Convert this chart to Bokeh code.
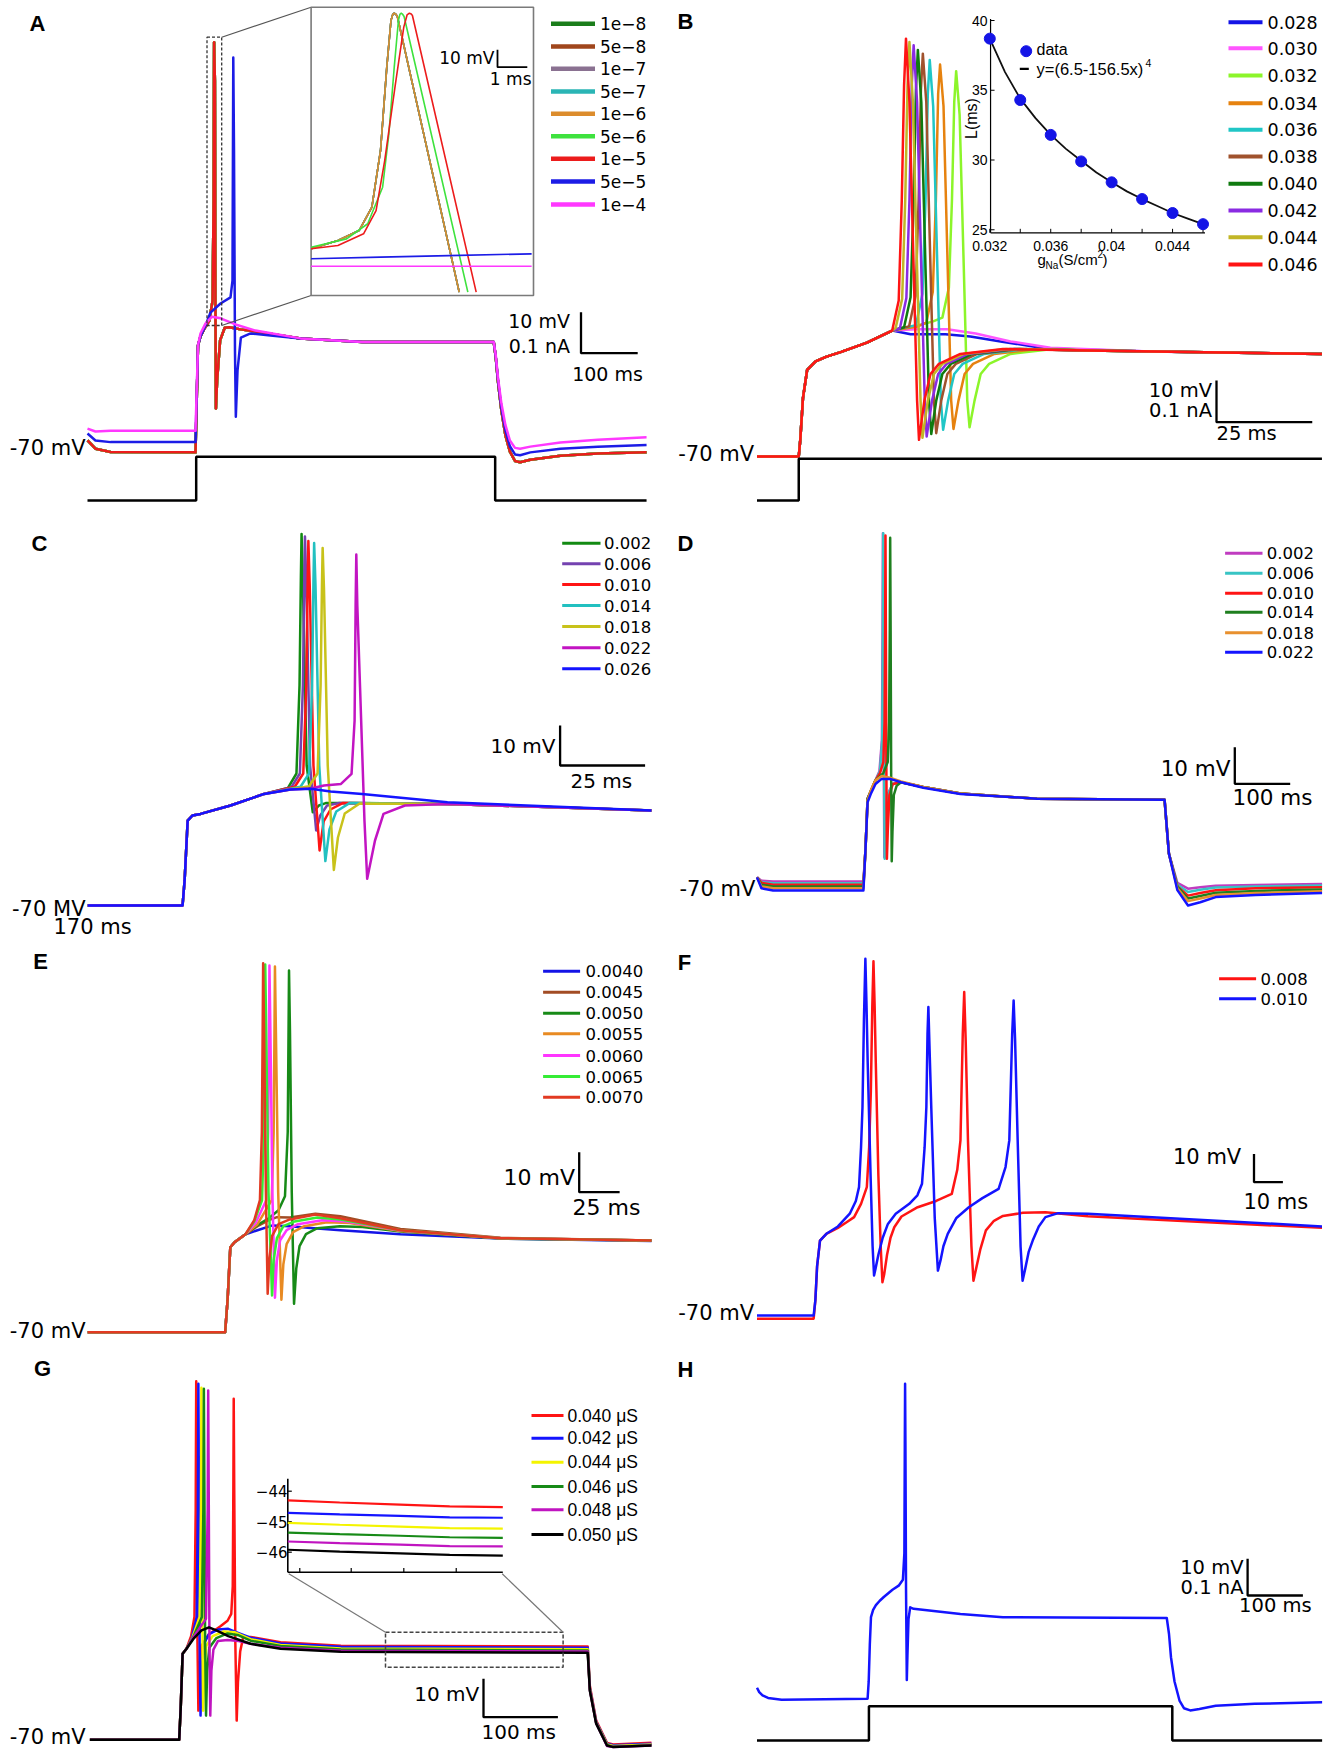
import math
from bokeh.plotting import figure
from bokeh.models import Range1d
from bokeh.core.properties import value
from bokeh.embed import file_html
from bokeh.resources import INLINE

# ======================= DATA (ms, mV, nA) =======================
# ---- Panel A ----
A_LABELS = ["1e\u22128", "5e\u22128", "1e\u22127", "5e\u22127", "1e\u22126", "5e\u22126", "1e\u22125", "5e\u22125", "1e\u22124"]
A_COLORS = ["#1b7d1b", "#a0461c", "#8a7191", "#2ab5b5", "#dc8c2c", "#3ee23e", "#ec1c1c", "#1c1ce6", "#ff38ff"]
A_GROUP = [(0, -67.8), (14, -69.8), (40.6, -70.6), (190.5, -70.7), (194.9, -44.6), (199.3, -42.4), (206, -40.6),
           (214.5, -38.7), (220.6, -33.7), (222.4, -9.3), (223.3, 29.3), (224.7, 20), (225.6, -33.7), (226.5, -60),
           (228.6, -53.2), (233.9, -43.4), (242, -40.3), (250, -40.2), (269.8, -40.7), (296.3, -41.2),
           (375.7, -42.9), (485, -43.8), (716.5, -43.8), (720, -47.5), (724, -53.5), (730, -60.5), (737, -66.5),
           (745, -70.5), (754, -72.8), (763, -73.1), (781, -72.5), (834, -71.5), (900, -71), (986, -70.7)]
A_BLUE = [(0, -66.1), (14, -67.8), (40.6, -68.2), (190.5, -68.2), (194.9, -44.6), (199.3, -42.4), (208, -39.8),
          (216.9, -36.6), (234.6, -34.4), (252.2, -32.9), (255.7, -28.8), (257.1, 25.6), (258.4, 2.9),
          (260.1, -45.9), (261.6, -62), (264.6, -50.7), (270.5, -42.7), (287.5, -41.7), (322.8, -42.2),
          (375.7, -42.9), (485, -43.8), (716.5, -43.8), (720, -47.3), (724, -53), (730, -59.8), (737, -65.3),
          (745, -69.2), (754, -71.2), (763, -71.4), (781, -70.7), (834, -69.8), (900, -69.3), (986, -68.9)]
A_MAGENTA = [(0, -64.9), (14, -65.6), (40.6, -65.4), (190.5, -65.4), (194.9, -44.6), (199.3, -41.7), (208, -39.3),
             (219.6, -37.6), (234.6, -38), (261, -39.5), (296.3, -41), (375.7, -42.9), (485, -43.8), (716.5, -43.8),
             (720, -47), (724, -52.5), (730, -58.8), (737, -64), (745, -67.8), (754, -69.6), (763, -69.8),
             (781, -69.3), (834, -68.3), (900, -67.6), (986, -67)]
A_STIM_T = [0, 191.7, 191.7, 719, 719, 986]
A_STIM_I = [0, 0, 0.107, 0.107, 0, 0]
# zoomed inset of panel A
AI_GROUP = [(0, -105.4), (0.9, -100.6), (1.61, -94.9), (2.04, -81.5), (2.33, -48.9), (2.54, -1.0), (2.68, 25.8),
            (2.74, 29.2), (2.79, 30), (2.85, 29.3), (2.9, 27.7), (4.97, -130.3)]
AI_LIME = [(0, -104.5), (1.19, -99.7), (1.9, -91), (2.4, -70), (2.61, -39.3), (2.79, -1.0), (2.93, 25.8),
           (2.98, 29.3), (3.02, 30), (3.07, 29.4), (3.12, 28.1), (5.26, -130.3)]
AI_RED = [(0, -105.4), (0.9, -103.5), (1.76, -96.8), (2.18, -83.4), (2.47, -54.7), (2.83, -10.6), (3.11, 22),
          (3.22, 29), (3.3, 30), (3.36, 29.5), (3.4, 28.7), (5.54, -130.3)]
AI_BLUE = [(0, -111.1), (2.33, -110.2), (4.61, -109.3), (7.4, -108.3)]
AI_MAGENTA = [(0, -115.4), (7.4, -115.4)]

# ---- Panel B ----
B_LABELS = ["0.028", "0.030", "0.032", "0.034", "0.036", "0.038", "0.040", "0.042", "0.044", "0.046"]
B_COLORS = ["#1414e6", "#ff55ff", "#8cf52a", "#e6820f", "#20c6c6", "#a0522d", "#0f7a0f", "#8a2be2", "#c2b626", "#ff1414"]
B_RISE = [(0, -70), (10.9, -70), (11.3, -66), (12.0, -56), (13.1, -49.2), (15.3, -47.2), (18, -46.1),
          (22, -44.9), (28.7, -42.7), (35.3, -39.8)]
B_TAILS = [
    [(40.1, -40.7), (49.2, -40.7), (55.7, -41.2), (63.6, -42.4), (75.3, -44.1), (102.7, -44.8), (147.5, -45.4)],
    [(41.4, -39.5), (49.7, -39.5), (57.1, -40.5), (66.2, -42.4), (76.6, -43.9), (102.7, -44.8), (147.5, -45.4)],
    [(42, -38.6), (46, -37.6), (48.4, -36.7), (50.1, -29.5), (50.9, -8.6), (51.5, 15), (52.0, 22.4), (52.9, 12),
     (54.0, -25), (54.9, -56.6), (55.5, -63.0), (56.8, -56.6), (58.4, -50.2), (60.6, -47.8), (66.2, -45.4),
     (77.3, -44.2), (86.4, -44.6), (147.5, -45.4)],
    [(42, -38.8), (44.2, -37.9), (45.9, -30.5), (46.7, -8.6), (47.3, 17), (47.8, 24.0), (48.7, 14), (49.8, -25),
     (50.7, -56.6), (51.3, -63.4), (52.6, -56.6), (54.2, -50.2), (56.4, -47.8), (62.0, -45.4), (73.1, -44.2),
     (86.4, -44.6), (147.5, -45.4)],
    [(41.5, -38.5), (43.2, -31), (44.0, -8.6), (44.6, 17), (45.1, 25.1), (46.0, 14), (47.1, -25), (48.0, -56.6),
     (48.6, -63.6), (49.9, -56.6), (51.5, -50.2), (53.7, -47.8), (59.3, -45.4), (70.4, -44.2), (86.4, -44.6),
     (147.5, -45.4)],
    [(39.7, -38.8), (41.4, -31.5), (42.2, -8.6), (42.8, 18), (43.3, 26.6), (44.2, 15), (45.3, -25), (46.2, -56.6),
     (46.8, -64.4), (48.1, -56.6), (49.7, -50.2), (51.9, -47.8), (57.5, -45.4), (68.6, -44.2), (86.4, -44.6),
     (147.5, -45.4)],
    [(38.4, -39.0), (40.1, -31.8), (40.9, -8.6), (41.5, 18), (42.0, 27.5), (42.9, 15), (44.0, -25), (44.9, -56.6),
     (45.5, -64.6), (46.8, -56.6), (48.4, -50.2), (50.6, -47.8), (56.2, -45.4), (67.3, -44.2), (86.4, -44.6),
     (147.5, -45.4)],
    [(37.3, -39.3), (39.0, -32), (39.8, -8.6), (40.4, 19), (40.9, 28.6), (41.8, 15), (42.9, -25), (43.8, -56.6),
     (44.3, -65.2), (45.7, -56.6), (47.3, -50.2), (49.5, -47.8), (55.1, -45.4), (66.2, -44.2), (86.4, -44.6),
     (147.5, -45.4)],
    [(36.2, -39.2), (37.9, -32.2), (38.7, -8.6), (39.3, 19), (39.8, 29.4), (40.7, 15), (41.8, -25), (42.7, -56.6),
     (43.2, -65.5), (44.6, -56.6), (46.2, -50.2), (48.4, -47.8), (54.0, -45.4), (65.1, -44.2), (86.4, -44.6),
     (147.5, -45.4)],
    [(37.0, -32.6), (37.8, -8.6), (38.4, 19), (38.9, 30.2), (39.8, 15), (40.9, -25), (41.8, -56.6), (42.3, -66.0),
     (43.7, -56.6), (45.3, -50.2), (47.5, -47.8), (53.1, -45.4), (64.2, -44.2), (86.4, -44.6), (147.5, -45.4)],
]
B_STIM_T = [0, 10.9, 10.9, 147.5]
B_STIM_I = [0, 0, 0.1, 0.1]
# inset of panel B: latency vs gNa
B_GNA = [0.032, 0.034, 0.036, 0.038, 0.040, 0.042, 0.044, 0.046]
B_LAT = [38.7, 34.3, 31.8, 29.9, 28.4, 27.2, 26.2, 25.4]
B_FIT_G = [0.032, 0.033, 0.034, 0.035, 0.036, 0.037, 0.038, 0.039, 0.040, 0.041, 0.042, 0.043, 0.044, 0.045, 0.046]
B_FIT_L = [38.7, 36.3, 34.4, 33.0, 31.8, 30.8, 29.95, 29.1, 28.4, 27.75, 27.2, 26.7, 26.2, 25.8, 25.4]
B_YTICKS = [25, 30, 35, 40]
B_XTICKS = [0.032, 0.036, 0.040, 0.044]
B_XTICK_LABELS = ["0.032", "0.036", "0.04", "0.044"]

# ---- Panel C ----
C_LABELS = ["0.002", "0.006", "0.010", "0.014", "0.018", "0.022", "0.026"]
C_COLORS = ["#128a12", "#7442b0", "#ff1414", "#22c0c0", "#c8c21a", "#c214c2", "#1414ff"]
C_RISE = [(0, -70), (27.9, -70), (28.5, -63.8), (29.4, -48.8), (30.8, -47.5), (33.2, -47.1), (42, -45), (51.9, -42.1)]
C_TAILS = [
    [(58.9, -40.6), (61.4, -37), (62.3, -15), (62.7, 12), (62.9, 22.9), (63.3, 10), (64.4, -35), (66.2, -46.7),
     (68, -45), (70, -44.4), (80, -44.4), (105.8, -44.6), (165.8, -46.25)],
    [(59.9, -40.4), (62.4, -37), (63.3, -15), (63.7, 12), (63.9, 22.25), (64.3, 10), (65.4, -35), (67.2, -51.25),
     (68.4, -47.5), (70.4, -45), (74, -44.4), (105.8, -44.6), (165.8, -46.25)],
    [(60.9, -40.3), (63.4, -37), (64.3, -15), (64.7, 11), (64.9, 21.1), (65.3, 10), (66.4, -35), (68.2, -56.25),
     (69.4, -49), (71.4, -46), (75, -44.4), (105.8, -44.6), (165.8, -46.25)],
    [(62.6, -40.3), (65.1, -37), (66.0, -15), (66.4, 11), (66.6, 20.6), (67.0, 10), (68.1, -35), (69.9, -58.9),
     (71.1, -51), (73.1, -46.5), (77, -44.4), (105.8, -44.6), (165.8, -46.25)],
    [(65.1, -40.2), (67.6, -37), (68.5, -15), (68.9, 10), (69.1, 19.4), (69.5, 9), (70.6, -35), (72.4, -61.1),
     (73.6, -53), (75.6, -47), (80, -44.5), (105.8, -44.6), (165.8, -46.25)],
    [(59.6, -41), (65.7, -40.75), (69.5, -40), (74.5, -39.6), (77.6, -37.1), (78.5, -23.75), (78.8, 5),
     (79.0, 17.75), (79.3, 5), (80.1, -15.4), (81.4, -48.75), (82.2, -63.3), (84.5, -53.75), (87, -47.1),
     (93.3, -45), (105.8, -44.6), (165.8, -46.25)],
    [(59.6, -41), (65.7, -40.8), (71.4, -41.5), (80.7, -42.1), (105.8, -44.2), (165.8, -46.25)],
]

# ---- Panel D ----
D_LABELS = ["0.002", "0.006", "0.010", "0.014", "0.018", "0.022"]
D_COLORS = ["#c03cc0", "#38c4c4", "#ff1414", "#1f7f1f", "#e8902e", "#1414ff"]
D_TRACES = [
    [(0, -67.5), (8, -68.4), (29.1, -68.6), (192.1, -68.6), (195.8, -60), (199.6, -46), (213.9, -41), (221, -38.5),
     (225.5, -30), (226.7, 0), (227.3, 26.5), (228, 0), (229, -40), (229.9, -62), (231.5, -55), (235, -45),
     (245, -42), (260, -41.5), (300, -42.8), (367.1, -44.6), (505.4, -46), (735.7, -46.3), (743.5, -61),
     (758.8, -69), (778, -70.6), (800, -70.2), (828, -69.8), (900, -69.6), (1020, -69.3)],
    [(0, -67.5), (8, -68.8), (29.1, -69.1), (192.1, -69.1), (195.8, -60), (199.6, -46), (213.9, -41), (222, -38.5),
     (226, -30), (227.3, 0), (227.9, 26.5), (228.6, 0), (229.6, -40), (230.5, -62.4), (232, -55), (236, -45),
     (245, -42), (260, -41.5), (300, -42.8), (367.1, -44.6), (505.4, -46), (735.7, -46.3), (743.5, -61),
     (758.8, -69.5), (778, -71.5), (800, -70.9), (828, -70.3), (900, -70), (1020, -69.7)],
    [(0, -67.5), (8, -69), (29.1, -69.5), (192.1, -69.5), (195.8, -60), (199.6, -46), (213.9, -41), (222, -39),
     (228, -36), (230.3, -25), (231.3, 0), (231.9, 25.9), (232.6, 0), (233.6, -40), (234.5, -62.4), (236, -55),
     (239, -45), (245, -42), (260, -41.5), (300, -42.8), (367.1, -44.6), (505.4, -46), (735.7, -46.3),
     (743.5, -61), (758.8, -70), (778, -72.5), (800, -71.8), (828, -71), (900, -70.5), (1020, -70.2)],
    [(0, -67.5), (8, -69.5), (29.1, -70), (192.1, -70), (195.8, -60), (199.6, -46), (213.9, -41), (228, -39),
     (236, -36), (238.5, -25), (239.7, 0), (240.4, 25.3), (241.2, 0), (242.2, -40), (243.2, -63.1), (244.5, -55),
     (247, -45), (252, -42.5), (260, -41.5), (300, -42.8), (367.1, -44.6), (505.4, -46), (735.7, -46.3),
     (743.5, -61), (758.8, -70), (778, -73.3), (800, -72.6), (828, -71.7), (900, -71.2), (1020, -70.8)],
    [(0, -67.5), (8, -70), (29.1, -70.5), (192.1, -70.5), (195.8, -60), (199.6, -46.5), (206, -43.5), (213.9, -41),
     (225, -39.8), (240, -40.3), (260, -41.3), (300, -42.8), (367.1, -44.6), (505.4, -46), (735.7, -46.3),
     (743.5, -61), (758.8, -70.5), (778, -74), (800, -73.3), (828, -72.3), (900, -71.8), (1020, -71.3)],
    [(0, -67.5), (8, -70.5), (29.1, -71.1), (192.1, -71.1), (195.8, -60), (199.6, -47), (206, -44.5), (213.9, -42),
     (225, -40.6), (240, -40.6), (260, -41.5), (300, -43), (367.1, -44.7), (505.4, -46), (735.7, -46.3),
     (743.5, -61), (758.8, -71), (778, -75.2), (800, -74.3), (828, -72.9), (900, -72.3), (1020, -71.8)],
]

# ---- Panel E ----
E_LABELS = ["0.0040", "0.0045", "0.0050", "0.0055", "0.0060", "0.0065", "0.0070"]
E_COLORS = ["#1414e6", "#a24c24", "#178a17", "#e88a22", "#ff35ff", "#35ec35", "#e23a22"]
E_RISE = [(0, -70), (85, -70), (86.5, -62), (88.2, -48.75), (90.8, -47.5), (97.6, -45.5)]
E_TAILS = [
    [(105, -44.5), (114.3, -43.3), (125, -43.5), (140, -44), (156.3, -44.5), (193.4, -45.5), (255.3, -46.6),
     (348.7, -47.2)],
    [(105, -43.5), (112, -42), (117.1, -41.25), (125, -41.3), (140.8, -40.4), (156.3, -41), (193.4, -44.2),
     (255.3, -46.4), (348.7, -47.1)],
    [(105, -43.2), (112, -41.5), (118, -39.5), (122, -36), (123.7, -20), (124.2, 5), (124.5, 20.4), (125.1, 5),
     (126.2, -35), (127.6, -62.9), (129, -54), (131, -48.5), (135, -45.5), (142, -44), (156, -43.5), (170, -43.7),
     (193.4, -44.8), (255.3, -46.6), (348.7, -47.1)],
    [(105, -43), (113.8, -37), (115, -20), (115.5, 5), (115.8, 21.4), (116.4, 5), (117.8, -35), (119.8, -61.9),
     (121, -53), (123, -48), (127, -45), (134, -43.5), (148, -42.5), (162, -42.7), (193.4, -44.7), (255.3, -46.5),
     (348.7, -47.1)],
    [(104, -42.6), (110.4, -37), (111.6, -20), (112.1, 5), (112.4, 21.7), (113, 5), (114.2, -35), (115.8, -61.4),
     (117, -52), (119, -47), (123, -44.5), (130, -43), (145, -42), (160, -42.3), (193.4, -44.6), (255.3, -46.5),
     (348.7, -47.1)],
    [(103, -42.3), (107.8, -37), (109, -20), (109.5, 5), (109.8, 21.9), (110.4, 5), (111.8, -35), (114.0, -60.8),
     (115, -52), (117, -46.5), (121, -43.5), (128, -42.3), (142, -41.3), (156.3, -41.8), (193.4, -44.5),
     (255.3, -46.5), (348.7, -47.1)],
    [(103, -42), (106.5, -37), (107.7, -20), (108.2, 5), (108.5, 22.25), (109.1, 5), (110.2, -35), (111.3, -60.4),
     (112.3, -52), (114, -46), (118, -43), (125, -41.8), (140.8, -40.6), (156.3, -41.5), (193.4, -44.5),
     (255.3, -46.5), (348.7, -47.1)],
]

# ---- Panel F ----
F_LABELS = ["0.008", "0.010"]
F_COLORS = ["#ff1414", "#1414ff"]
F_TRACES = [
    [(0, -70.6), (19.6, -70.6), (20.2, -64), (20.8, -52), (21.8, -43), (24, -40.6), (28, -38.5), (31, -36.5),
     (33.6, -34.7), (36, -30), (38, -24.1), (38.8, -10), (39.4, 10), (39.9, 40), (40.3, 55.7), (40.7, 40),
     (41.1, 20), (42, -20), (42.8, -45), (43.4, -57.7), (44.0, -55), (45, -48), (46.2, -42), (47.5, -38.3),
     (50, -34.5), (55.6, -31.2), (62, -29), (67.4, -26.5), (69.3, -18), (70.4, -7.6), (71.2, 30), (71.7, 44.8),
     (72.2, 28), (73, -7.6), (74.2, -45), (74.9, -57.2), (75.8, -53), (77.3, -46), (79.2, -39.4), (82, -36),
     (85.1, -34.3), (92, -33.2), (99.8, -33), (114.5, -34.4), (195.5, -38.5)],
    [(0, -69.5), (19.6, -69.5), (20.2, -64), (20.8, -52), (21.8, -43), (24, -40.6), (28, -38), (32.1, -33.5),
     (34.2, -29), (35.3, -24.1), (36.0, -10), (36.5, 4.1), (37.0, 35), (37.5, 56.6), (37.9, 40), (38.3, 20),
     (39.3, -20), (40.0, -45), (40.5, -55.3), (41.0, -53), (42, -48), (43.5, -42), (45.3, -37.1), (48, -33.5),
     (52.7, -30), (55.5, -27), (57.1, -22.9), (58.0, -10), (58.6, 4.1), (59.0, 30), (59.3, 39.5), (59.7, 25),
     (60.3, 4.1), (61.5, -35), (62.6, -53.6), (63.5, -50), (64.5, -45), (66, -40.6), (69, -35), (73.3, -31.2),
     (78, -28), (83.6, -24.7), (86.0, -17), (87.3, -7.6), (88.3, 30), (88.8, 41.8), (89.3, 28), (90.2, -7.6),
     (91.2, -45), (91.9, -57.2), (92.8, -53), (94, -47), (95.4, -43), (97.5, -38), (99.8, -34.7), (104.2, -33.3),
     (114.5, -33.5), (195.5, -38)],
]

# ---- Panel G ----
G_LABELS = ["0.040 \u03bcS", "0.042 \u03bcS", "0.044 \u03bcS", "0.046 \u03bcS", "0.048 \u03bcS", "0.050 \u03bcS"]
G_COLORS = ["#ff1414", "#1414ff", "#f4f400", "#178a17", "#c014c0", "#000000"]
G_RISE = [(0, -70), (120, -70), (122, -62), (124.6, -47.6), (129.8, -46.3)]
G_TAILS = [
    [(136, -43), (140.5, -38), (142.2, -10), (142.9, 23.4), (143.6, -5), (144.6, -45), (145.8, -62.4), (147.3, -52),
     (150, -45.5), (160, -42.5), (175, -40.5), (185, -39), (190, -37.2), (192, -30), (192.8, -5), (193.3, 18.8),
     (194, -5), (195.5, -45), (197.3, -65), (199, -55), (202, -47), (206, -43.3), (215.9, -43.2), (256.2, -44.6),
     (337.4, -45.5), (669.1, -45.7), (672, -56), (680.5, -65), (695, -70.8), (703.5, -71.2), (754.8, -70.8)],
    [(137, -43.5), (143.5, -38), (145.1, -10), (145.8, 22.7), (146.5, -5), (147.5, -45), (148.7, -63.7),
     (150.2, -52), (153, -45), (160, -42.5), (172, -41.3), (185.9, -41.1), (200, -42.2), (215.9, -43.4),
     (256.2, -44.9), (337.4, -45.8), (669.1, -46), (672, -56.5), (680.5, -65.3), (695, -71), (703.5, -71.4),
     (754.8, -71)],
    [(138, -43.3), (147.5, -38), (149.3, -10), (149.9, 21.7), (150.6, -5), (151.4, -45), (152.2, -62.4),
     (153.7, -52), (156.5, -45.5), (165, -43), (180, -41.8), (195, -42), (215.9, -43.8), (256.2, -45.3),
     (337.4, -46.2), (669.1, -46.4), (672, -56.8), (680.5, -65.5), (695, -71.2), (703.5, -71.6), (754.8, -71.2)],
    [(139, -43.2), (150.5, -38), (152.5, -10), (153.2, 21.4), (153.9, -5), (154.9, -45), (156.1, -63.7),
     (157.6, -52), (160.5, -46), (170, -43.5), (185, -42.3), (200, -42.8), (215.9, -44.2), (256.2, -45.6),
     (337.4, -46.5), (669.1, -46.75), (672, -57), (680.5, -65.6), (695, -71.4), (703.5, -71.8), (754.8, -71.4)],
    [(140, -43), (156, -38.5), (158.3, -10), (159, 20.95), (159.7, -5), (160.7, -45), (161.8, -63.7), (163.3, -52),
     (166, -46.5), (172, -44.3), (185, -44), (200, -44.3), (215.9, -45), (256.2, -46), (337.4, -46.8),
     (669.1, -47), (672, -57.1), (680.5, -65.7), (695, -71.6), (703.5, -71.9), (754.8, -71.5)],
    [(140, -43.5), (150, -41.5), (160.1, -40.7), (170, -41.5), (185.9, -43), (215.9, -45), (256.2, -46.3),
     (337.4, -47.1), (669.1, -47.3), (672, -57.2), (680.5, -65.8), (695, -71.5), (703.5, -71.9), (754.8, -71.5)],
]
# inset of panel G (plateau detail)
GI_T = [397.3, 455, 522, 577, 636]
GI_V = [
    [-44.30, -44.37, -44.44, -44.50, -44.52],
    [-44.71, -44.76, -44.81, -44.86, -44.87],
    [-45.04, -45.10, -45.16, -45.21, -45.23],
    [-45.36, -45.41, -45.46, -45.51, -45.53],
    [-45.65, -45.70, -45.75, -45.80, -45.81],
    [-45.92, -45.98, -46.04, -46.09, -46.11],
]
GI_YTICKS = [-44, -45, -46]
GI_YTICK_LABELS = ["\u221244", "\u221245", "\u221246"]
GI_XTICKS = [410.6, 467.7, 526.1, 584.3]

# ---- Panel H ----
H_TRACE = [(0, -66.7), (4, -67.9), (10, -68.8), (20, -69.5), (44.5, -70), (200, -69.7), (202, -65), (204, -55),
           (206.1, -47.5), (210, -45.5), (215, -44.2), (222, -43), (229.3, -42), (245, -40), (256.2, -38.9),
           (263.8, -37.3), (266.5, -30), (267.3, 0), (267.8, 16.1), (268.4, 0), (269.5, -40), (270.9, -64.6),
           (272, -58), (274, -48), (277, -44.8), (283.2, -45.2), (367.8, -46.6), (444.7, -47.5), (741, -47.7),
           (745, -52), (748.6, -58.4), (755, -65), (764, -70.2), (772, -72.3), (783.4, -72.9), (800, -72.5),
           (829.5, -71.6), (900, -71.1), (1021.9, -70.7)]
H_STIM_T = [0, 202.4, 202.4, 751, 751, 1021.9]
H_STIM_I = [0, 0, 0.093, 0.093, 0, 0]

# ======================= FIGURE =======================
FW, FH = 1324, 1750
p = figure(width=FW, height=FH, x_range=Range1d(0, FW), y_range=Range1d(FH, 0),
           x_axis_type=None, y_axis_type=None, output_backend="svg", toolbar_location=None,
           min_border=0, outline_line_color=None)
p.background_fill_color = "white"

XR, YR, CAL = {}, {}, {}


def calib(name, xa, ta, sx, ya, va, sy):
    CAL[name] = (xa, ta, sx, ya, va, sy)
    XR[name] = Range1d(start=ta + (0 - xa) / sx, end=ta + (FW - xa) / sx)
    YR[name] = Range1d(start=va - (FH - ya) / sy, end=va - (0 - ya) / sy)


def to_px(name, t, v):
    xa, ta, sx, ya, va, sy = CAL[name]
    return xa + (t - ta) * sx, ya - (v - va) * sy


def to_data(name, x, y):
    xa, ta, sx, ya, va, sy = CAL[name]
    return ta + (x - xa) / sx, va - (y - ya) / sy


def trace(name, pts, color, width=2.5, yname=None):
    p.line([a for a, b in pts], [b for a, b in pts], x_range_name=name, y_range_name=yname or name,
           line_color=color, line_width=width, line_join="round")


def txt(x, y, s, size, align="left", font="DejaVu Sans", bold=False, angle=0.0):
    p.text(x=[x], y=[y], text=[s], text_font=value(font), text_font_size=f"{size}px", text_align=align,
           text_baseline="middle", text_font_style="bold" if bold else "normal", angle=angle, text_color="black")


def seg(x0, y0, x1, y1, color="black", width=2.2, dash="solid"):
    p.segment(x0=[x0], y0=[y0], x1=[x1], y1=[y1], line_color=color, line_width=width, line_dash=dash)


def scalebar(name, xc, yc, dt, dv, width=2.3):
    t0, v0 = to_data(name, xc, yc)
    p.line([t0 + dt, t0, t0], [v0, v0, v0 + dv], x_range_name=name, y_range_name=name,
           line_color="black", line_width=width)


def legend(x0, x1, xl, ys, colors, labels, size, lw, font="DejaVu Sans"):
    n = len(ys)
    p.segment(x0=[x0] * n, y0=ys, x1=[x1] * n, y1=ys, line_color=colors, line_width=lw)
    p.text(x=[xl] * n, y=ys, text=labels, text_font=value(font), text_font_size=f"{size}px",
           text_align="left", text_baseline="middle", text_color="black")


# ---- calibrations (reference pixel positions -> data units) ----
calib("A", 87, 0, 0.567, 449, -70, 4.1)
calib("Acur", 87, 0, 0.567, 500, 0, 410)
calib("Ai", 310.6, 0, 29.8, 12.7, 30, 1.74)
calib("B", 756.5, 0, 3.83, 456, -70, 4.17)
calib("Bcur", 756.5, 0, 3.83, 500, 0, 417)
calib("Bi", 989.3, 0.032, 15230, 20, 40, 13.95)
calib("C", 87.2, 0, 3.4, 905, -70, 4.0)
calib("D", 756.5, 0, 0.554, 886, -70, 3.66)
calib("E", 87.2, 0, 1.617, 1331.7, -70, 4.0)
calib("F", 756.5, 0, 2.89, 1316.5, -70, 2.83)
calib("G", 89.4, 0, 0.744, 1739.3, -70, 3.84)
calib("Gi", 287.3, 397.3, 0.9007, 1490.7, -44, 30.5)
calib("H", 756.5, 0, 0.553, 1699.3, -70, 3.67)
calib("Hcur", 756.5, 0, 0.553, 1740, 0, 367)

# ---- panel letters ----
for lab, x, y in [("A", 37, 23), ("B", 685, 21), ("C", 39, 543), ("D", 685, 543),
                  ("E", 40, 961), ("F", 684, 962), ("G", 42, 1368), ("H", 685, 1369)]:
    txt(x, y, lab, 22, align="center", font="Liberation Sans", bold=True)

# ================= Panel A =================
for i in range(7):
    trace("A", A_GROUP, A_COLORS[i])
trace("A", A_BLUE, A_COLORS[7])
trace("A", A_MAGENTA, A_COLORS[8])
p.line(A_STIM_T, A_STIM_I, x_range_name="A", y_range_name="Acur", line_color="black", line_width=2.5)
p.quad(left=[206.5], right=[221.2], top=[36.7], bottom=[325], fill_color=None, line_color="#333333",
       line_width=1.3, line_dash="3 2")
seg(221.2, 36.7, 310.6, 6.7, color="#555555", width=1.2)
seg(221.2, 325, 310.6, 295, color="#555555", width=1.2)
p.quad(left=[310.6], right=[533], top=[6.7], bottom=[295], fill_color="white", line_color="#7a7a7a",
       line_width=1.6)
for i in range(5):
    trace("Ai", AI_GROUP, A_COLORS[i], width=1.6)
trace("Ai", AI_LIME, A_COLORS[5], width=1.6)
trace("Ai", AI_RED, A_COLORS[6], width=1.6)
trace("Ai", AI_BLUE, A_COLORS[7], width=1.6)
trace("Ai", AI_MAGENTA, A_COLORS[8], width=1.6)
scalebar("Ai", 497, 66.7, 1, 10, width=1.8)
txt(494, 57, "10 mV", 17, align="right")
txt(531, 78, "1 ms", 17, align="right")
legend(550.5, 594.5, 599.5, [23.3, 46, 68.3, 91, 113.3, 135.7, 158.3, 181, 204], A_COLORS, A_LABELS, 17, 4.5)
scalebar("A", 580.5, 352.7, 100, 10)
txt(569.5, 320, "10 mV", 19, align="right")
txt(569.5, 345, "0.1 nA", 19, align="right")
txt(607, 373, "100 ms", 19, align="center")
txt(85, 447, "-70 mV", 21, align="right")

# ================= Panel B =================
for i in range(10):
    trace("B", B_RISE + B_TAILS[i], B_COLORS[i])
p.line(B_STIM_T, B_STIM_I, x_range_name="B", y_range_name="Bcur", line_color="black", line_width=2.5)
legend(1228, 1262, 1267, [21.7, 47.7, 75, 102.7, 129.3, 156, 183.3, 210, 236.7, 264], B_COLORS, B_LABELS, 17.5, 4)
scalebar("B", 1216, 421.7, 25, 10)
txt(1211.5, 390, "10 mV", 19.5, align="right")
txt(1211.5, 410, "0.1 nA", 19.5, align="right")
txt(1216, 433.3, "25 ms", 19.5, align="left")
txt(753.5, 453.3, "-70 mV", 21, align="right")
# inset: latency vs gNa
p.line([0.03205, 0.03205], [24.78, 40.1], x_range_name="Bi", y_range_name="Bi", line_color="black", line_width=1.2)
p.line([0.03205, 0.04613], [24.78, 24.78], x_range_name="Bi", y_range_name="Bi", line_color="black", line_width=1.2)
for g in B_GNA:
    gx, gy = to_px("Bi", g, 24.78)
    seg(gx, gy, gx, gy - 4, width=1.0)
for L in B_YTICKS:
    lx, ly = to_px("Bi", 0.03205, L)
    seg(lx, ly, lx + 4, ly, width=1.0)
    txt(lx - 3, ly, str(L), 14, align="right", font="Liberation Sans")
for g, s in zip(B_XTICKS, B_XTICK_LABELS):
    gx, gy = to_px("Bi", g, 24.78)
    txt(gx, gy + 13, s, 14, align="center", font="Liberation Sans")
p.line(B_FIT_G, B_FIT_L, x_range_name="Bi", y_range_name="Bi", line_color="#111111", line_width=1.8)
p.scatter(B_GNA, B_LAT, x_range_name="Bi", y_range_name="Bi", size=11, fill_color="#1414e6",
          line_color="#1414e6")
txt(971, 118, "L(ms)", 16, align="center", font="Liberation Sans", angle=math.pi / 2)
txt(1037, 259, "g", 15, font="Liberation Sans")
txt(1045, 265, "Na", 10, font="Liberation Sans")
txt(1058, 259, "(S/cm", 15, font="Liberation Sans")
txt(1097, 253, "2", 10, font="Liberation Sans")
txt(1102, 259, ")", 15, font="Liberation Sans")
p.scatter([1025.7], [50.7], size=11, fill_color="#1414e6", line_color="#1414e6")
txt(1036, 49, "data", 16, font="Liberation Sans")
seg(1019.3, 68.3, 1028.3, 68.3, color="black", width=2.2)
txt(1036, 68.3, "y=(6.5-156.5x)", 16.5, font="Liberation Sans")
txt(1145, 62, "4", 10.5, font="Liberation Sans")

# ================= Panel C =================
for i in range(7):
    trace("C", C_RISE + C_TAILS[i], C_COLORS[i])
legend(561.7, 600, 603.4, [542.7, 563.3, 584, 605, 626, 647.3, 668.3], C_COLORS, C_LABELS, 16.5, 3)
scalebar("C", 559.6, 765, 25, 10)
txt(555, 745, "10 mV", 20, align="right")
txt(570, 780, "25 ms", 20, align="left")
txt(85, 908.3, "-70 MV", 21, align="right")
txt(53, 926, "170 ms", 21, align="left")

# ================= Panel D =================
for i in range(6):
    trace("D", D_TRACES[i], D_COLORS[i])
legend(1224.6, 1262, 1266.3, [552.7, 572.7, 592.7, 611.7, 632.3, 651.7], D_COLORS, D_LABELS, 16.5, 3)
scalebar("D", 1234.3, 783.3, 100, 10)
txt(1230, 768.3, "10 mV", 21.5, align="right")
txt(1232, 796.7, "100 ms", 21.5, align="left")
txt(754.8, 888.3, "-70 mV", 21, align="right")

# ================= Panel E =================
for i in range(7):
    trace("E", E_RISE + E_TAILS[i], E_COLORS[i])
legend(542.6, 579.6, 585, [970.7, 991.7, 1012.7, 1033.3, 1055, 1076, 1096.7], E_COLORS, E_LABELS, 16.5, 3)
scalebar("E", 578.7, 1191.7, 25, 10)
txt(574.5, 1177.3, "10 mV", 22, align="right")
txt(572, 1206.7, "25 ms", 22, align="left")
txt(85, 1330, "-70 mV", 21, align="right")

# ================= Panel F =================
for i in range(2):
    trace("F", F_TRACES[i], F_COLORS[i])
legend(1218.6, 1255.6, 1259.9, [978.3, 998.3], F_COLORS, F_LABELS, 16.5, 3)
scalebar("F", 1253.5, 1181.7, 10, 10)
txt(1240.7, 1156.7, "10 mV", 21, align="right")
txt(1242.9, 1201.7, "10 ms", 21, align="left")
txt(753.5, 1312.7, "-70 mV", 21, align="right")

# ================= Panel G =================
for i in range(6):
    trace("G", G_RISE + G_TAILS[i], G_COLORS[i])
legend(531, 563, 567, [1415, 1437.7, 1461.7, 1486, 1509.3, 1534], G_COLORS, G_LABELS, 17.5, 3,
       font="Liberation Sans")
scalebar("G", 483, 1716.7, 100, 10)
txt(478.7, 1693.3, "10 mV", 20, align="right")
txt(481, 1731.7, "100 ms", 20, align="left")
txt(85, 1736.7, "-70 mV", 21, align="right")
p.quad(left=[385], right=[562.6], top=[1631.7], bottom=[1666.7], fill_color=None, line_color="#444444",
       line_width=1.5, line_dash="4 2")
seg(288.3, 1573.3, 385, 1631.7, color="#777777", width=1.2)
seg(501.7, 1573.3, 562.6, 1631.7, color="#777777", width=1.2)
seg(287.3, 1478.3, 287.3, 1571.7, width=1.6)
seg(287.3, 1571.7, 502.3, 1571.7, width=1.6)
for tk in GI_XTICKS:
    tx, ty = to_px("Gi", tk, -46.5)
    seg(tx, 1571.7, tx, 1567.5, width=1.2)
for v, s in zip(GI_YTICKS, GI_YTICK_LABELS):
    vx, vy = to_px("Gi", 397.3, v)
    seg(287.3, vy, 291.3, vy, width=1.2)
    txt(287, vy, s, 15, align="right")
for i in range(6):
    p.line(GI_T, GI_V[i], x_range_name="Gi", y_range_name="Gi", line_color=G_COLORS[i], line_width=2.2)

# ================= Panel H =================
trace("H", H_TRACE, "#1414ff")
p.line(H_STIM_T, H_STIM_I, x_range_name="H", y_range_name="Hcur", line_color="black", line_width=2.5)
scalebar("H", 1247.1, 1595, 100, 10)
txt(1243, 1566.7, "10 mV", 19.5, align="right")
txt(1243, 1586.7, "0.1 nA", 19.5, align="right")
txt(1238.6, 1605, "100 ms", 19.5, align="left")

p.extra_x_ranges = XR
p.extra_y_ranges = YR

open("out.html", "w").write(file_html(p, INLINE))
